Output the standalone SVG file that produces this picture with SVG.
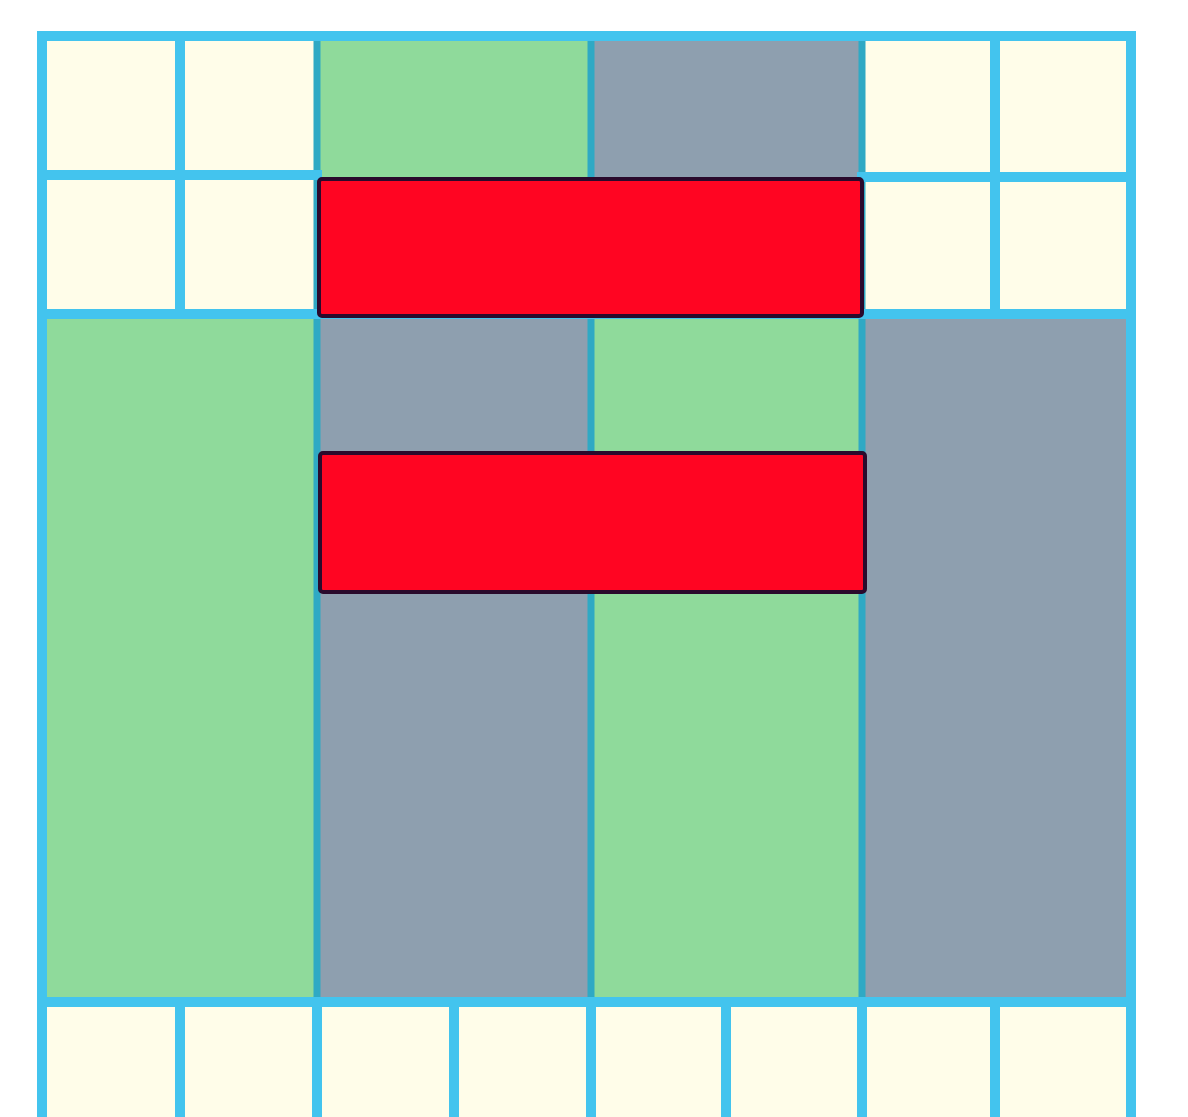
<svg xmlns="http://www.w3.org/2000/svg" width="1188" height="1117" viewBox="0 0 1188 1117">
<style>
.cream{fill:#FFFDE9}
.green{fill:#8FDA9B}
.gray{fill:#8E9FAF}
.bl{stroke:#43C4EE;stroke-width:10;fill:none;stroke-linecap:square}
.tl{stroke:#2FA9C4;stroke-width:7;fill:none}
.red{fill:#FF0522;stroke:#2A0A2C;stroke-width:4}
</style>
<rect width="1188" height="1117" fill="#FFFFFF"/>
<g id="fills">
<rect class="cream" x="42" y="36" width="275" height="278"/>
<rect class="cream" x="862" y="36" width="269" height="278"/>
<rect class="cream" x="42" y="1002" width="1089" height="115"/>
<rect class="green" x="317" y="36" width="274" height="278"/>
<rect class="gray" x="591" y="36" width="271" height="278"/>
<rect class="green" x="42" y="314" width="275" height="688"/>
<rect class="gray" x="317" y="314" width="274" height="688"/>
<rect class="green" x="591" y="314" width="271" height="688"/>
<rect class="gray" x="862" y="314" width="269" height="688"/>
</g>
<g id="grid">
<line class="tl" x1="317" y1="40" x2="317" y2="998"/>
<line class="tl" x1="591" y1="40" x2="591" y2="998"/>
<line class="tl" x1="862" y1="40" x2="862" y2="998"/>
<line class="bl" x1="42" y1="36" x2="1131" y2="36"/>
<line class="bl" x1="42" y1="36" x2="42" y2="1117"/>
<line class="bl" x1="1131" y1="36" x2="1131" y2="1117"/>
<line class="bl" x1="42" y1="175" x2="317" y2="175"/>
<line class="bl" x1="862" y1="177" x2="1131" y2="177"/>
<line class="bl" x1="42" y1="314" x2="1131" y2="314"/>
<line class="bl" x1="42" y1="1002" x2="1131" y2="1002"/>
<line class="bl" x1="180" y1="36" x2="180" y2="314"/>
<line class="bl" x1="995" y1="36" x2="995" y2="314"/>
<line class="bl" x1="180" y1="1002" x2="180" y2="1117"/>
<line class="bl" x1="317" y1="1002" x2="317" y2="1117"/>
<line class="bl" x1="454" y1="1002" x2="454" y2="1117"/>
<line class="bl" x1="591" y1="1002" x2="591" y2="1117"/>
<line class="bl" x1="726" y1="1002" x2="726" y2="1117"/>
<line class="bl" x1="862" y1="1002" x2="862" y2="1117"/>
<line class="bl" x1="995" y1="1002" x2="995" y2="1117"/>
</g>
<g id="bar1"><rect class="red" x="319" y="179" width="543" height="137" rx="3"/></g>
<g id="bar2"><rect class="red" x="320" y="453" width="545" height="139" rx="3"/></g>
</svg>
